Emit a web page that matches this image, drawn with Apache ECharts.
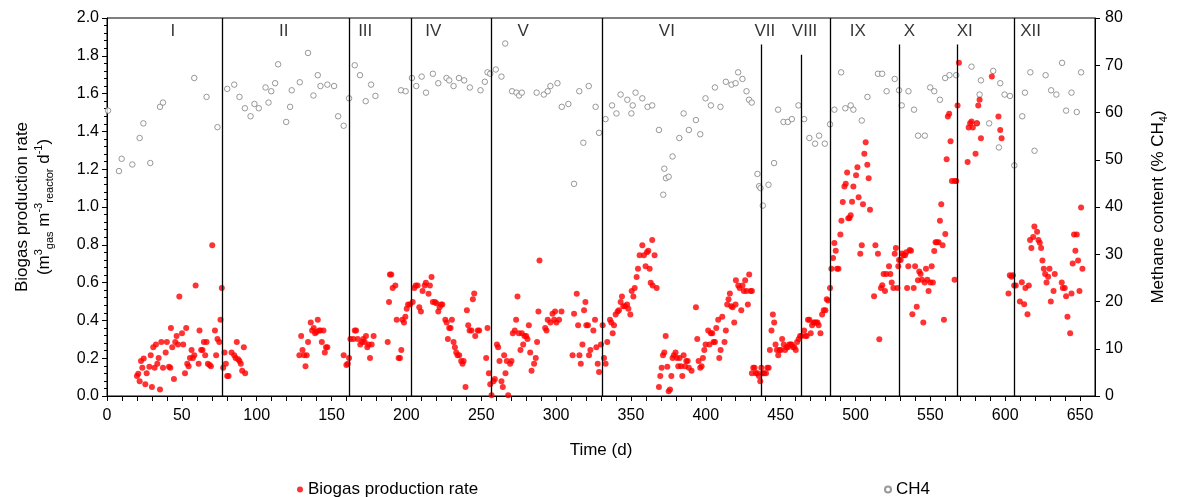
<!DOCTYPE html>
<html>
<head>
<meta charset="utf-8">
<script src="https://cdn.jsdelivr.net/npm/echarts@6/dist/echarts.min.js"></script>
<style>
html, body { margin: 0; padding: 0; background: #fff; }
#chart { width: 1177px; height: 497px; }
</style>
</head>
<body>
<div id="chart"></div>
<script>
// Biogas production rate (m3 gas per m3 reactor per day) against time (d)
const biogasDays = [
  20.0,20.9,21.8,22.7,23.6,24.5,25.6,26.5,28.3,29.2,30.0,30.9,31.8,32.7,33.6,34.5,35.4,36.3,37.4,39.2,
  40.0,41.4,42.3,42.7,43.6,44.7,45.6,46.5,47.4,48.3,50.1,50.9,52.1,52.9,53.6,54.5,55.4,56.5,57.4,58.3,
  59.2,61.2,61.8,62.9,63.8,64.7,65.6,66.5,67.4,68.5,69.4,70.3,72.1,72.9,73.8,75.0,75.8,76.7,77.6,78.5,
  79.4,80.3,81.2,83.2,85.0,85.9,86.7,87.6,88.5,89.4,90.3,91.4,92.3,
  128.5,129.7,130.6,131.7,132.6,133.4,134.3,136.1,137.0,138.1,139.0,139.9,140.8,141.7,142.6,143.5,144.6,145.5,146.3,147.2,
  158.1,159.9,160.8,161.7,162.6,164.6,165.5,166.4,167.5,169.2,170.4,171.2,172.1,173.0,173.9,174.8,175.7,176.8,178.1,
  187.5,188.4,189.0,189.9,190.8,192.6,193.5,194.8,195.7,196.6,197.3,198.4,199.3,200.2,201.1,202.4,
  204.2,205.3,206.2,207.5,208.6,209.7,210.8,212.2,213.0,214.8,215.7,216.8,217.7,219.1,220.0,221.3,222.2,223.1,224.0,
  226.0,226.9,227.7,228.6,229.5,230.4,231.5,232.4,233.3,234.2,235.3,236.6,237.5,238.2,239.5,240.4,241.3,242.2,243.5,
  244.4,245.3,246.0,247.7,248.6,253.3,254.2,255.1,256.0,256.9,
  258.2,259.1,260.5,261.3,262.2,263.5,264.4,265.3,266.2,267.1,268.0,269.3,270.2,271.1,272.4,273.3,274.2,275.1,276.2,
  277.1,278.0,278.9,280.0,280.9,281.8,282.7,283.6,285.3,286.4,287.3,288.2,288.9,292.7,293.6,294.4,296.2,297.6,298.7,
  299.3,300.2,302.0,303.6,311.0,312.0,313.8,314.7,315.6,316.5,317.6,318.7,319.6,320.2,321.3,322.0,322.9,324.9,326.0,
  326.9,327.8,328.7,330.0,
  331.1,332.0,333.1,334.2,336.0,336.9,337.8,338.7,339.8,341.1,342.0,343.1,344.0,344.9,346.0,347.4,348.3,349.6,350.5,
  351.6,352.5,353.8,354.7,355.8,357.6,358.7,359.8,360.7,361.6,362.5,363.2,364.2,364.5,365.8,367.2,
  368.7,369.6,370.5,371.4,372.3,373.2,374.3,375.2,376.1,377.0,377.8,378.7,379.8,380.7,381.6,382.5,383.4,384.3,385.2,
  386.1,387.0,387.9,388.7,390.5,393.4,394.3,395.2,396.3,397.2,398.1,399.0,399.9,401.6,402.5,403.4,404.3,405.2,406.1,
  407.0,408.3,409.0,409.9,411.0,412.5,413.4,414.3,415.2,416.1,417.0,417.9,419.0,419.9,420.1,421.7,422.6,423.7,424.5,
  425.4,426.3,427.2,428.1,429.0,429.9,430.8,
  430.8,431.7,432.6,433.5,434.4,435.5,436.4,437.1,438.0,438.9,440.2,441.1,442.0,442.8,443.9,444.8,445.7,446.6,447.5,
  448.4,449.2,450.1,451.0,452.1,453.0,453.9,454.8,455.7,456.6,457.4,458.3,459.2,460.1,461.0,462.1,463.0,463.9,
  465.7,466.6,467.4,468.3,469.2,470.1,471.0,471.9,472.8,473.7,474.6,475.4,476.6,477.7,478.8,479.9,480.8,481.7,
  483.0,483.9,485.0,485.9,486.8,487.7,488.6,489.9,490.6,491.5,492.6,493.5,494.4,495.2,
  496.0,496.8,497.7,498.6,500.4,501.3,502.1,503.2,504.2,505.0,505.9,506.8,507.9,508.8,509.7,512.4,513.3,515.0,515.9,
  517.0,517.9,518.8,519.7,520.6,522.4,523.3,524.2,525.3,526.2,527.0,528.0,528.6,
  529.1,530.2,531.1,532.0,533.1,534.0,534.5,535.3,536.2,537.1,538.0,538.9,539.8,540.9,541.7,542.6,543.5,544.4,545.3,
  546.2,547.1,548.0,548.8,550.0,550.9,551.7,552.6,553.5,554.4,555.5,556.4,557.3,558.2,559.1,560.0,560.9,561.7,562.6,
  563.5,564.4,566.2,566.2,567.3,568.2,569.1,
  574.9,575.6,576.6,577.5,578.4,580.2,581.1,582.0,582.9,583.8,591.1,595.5,596.7,597.6,
  602.2,603.1,604.2,605.1,606.0,607.1,609.8,611.1,612.7,613.5,614.9,615.8,616.6,617.5,618.7,619.5,621.3,622.2,623.1,
  624.0,624.9,625.8,626.7,627.6,628.7,629.6,630.5,632.3,633.1,637.8,638.5,639.8,640.7,641.6,643.4,644.3,645.1,646.0,
  646.9,647.8,648.7,649.6,650.7,651.6
];
const biogasRate = [
  0.106,0.118,0.078,0.185,0.150,0.198,0.062,0.120,0.155,0.216,0.048,0.258,0.150,0.272,0.171,0.201,0.034,0.286,0.150,0.230,
  0.286,0.155,0.150,0.360,0.258,0.090,0.286,0.318,0.272,0.526,0.332,0.272,0.120,0.360,0.171,0.157,0.201,0.244,0.201,0.216,
  0.585,0.171,0.346,0.244,0.244,0.286,0.216,0.286,0.171,0.164,0.157,0.797,0.346,0.216,0.302,0.286,0.403,0.571,0.150,0.230,
  0.171,0.106,0.106,0.230,0.216,0.201,0.286,0.194,0.185,0.171,0.134,0.258,0.120,
  0.216,0.318,0.244,0.216,0.157,0.216,0.286,0.389,0.346,0.360,0.332,0.339,0.403,0.346,0.346,0.286,0.346,0.230,0.258,0.258,
  0.216,0.164,0.171,0.201,0.302,0.302,0.346,0.346,0.302,0.272,0.286,0.302,0.286,0.318,0.258,0.272,0.201,0.272,0.318,
  0.286,0.498,0.643,0.643,0.571,0.585,0.403,0.201,0.201,0.244,0.403,0.389,0.419,0.461,0.484,0.484,
  0.498,0.571,0.585,0.585,0.470,0.447,0.556,0.585,0.599,0.541,0.585,0.629,0.498,0.498,0.491,0.447,0.470,0.484,0.484,
  0.403,0.389,0.302,0.360,0.360,0.403,0.286,0.258,0.230,0.216,0.216,0.185,0.171,0.185,0.048,0.454,0.374,0.346,0.346,
  0.512,0.542,0.318,0.346,0.346,0.201,0.360,0.120,0.062,0.004,
  0.078,0.090,0.272,0.258,0.185,0.078,0.048,0.216,0.120,0.185,0.004,0.171,0.185,0.332,0.346,0.403,0.526,0.332,0.244,
  0.332,0.272,0.318,0.318,0.302,0.374,0.230,0.134,0.171,0.201,0.286,0.447,0.717,0.360,0.346,0.403,0.389,0.435,0.403,
  0.447,0.389,0.403,0.447,0.216,0.435,0.541,0.374,0.216,0.171,0.272,0.454,0.498,0.374,0.374,0.216,0.244,0.346,0.403,
  0.258,0.171,0.127,0.272,
  0.374,0.201,0.171,0.286,0.403,0.389,0.332,0.374,0.431,0.447,0.454,0.498,0.526,0.475,0.475,0.484,0.461,0.431,0.556,
  0.526,0.571,0.629,0.673,0.745,0.797,0.745,0.687,0.760,0.768,0.673,0.599,0.825,0.585,0.745,0.571,
  0.048,0.106,0.150,0.216,0.230,0.318,0.155,0.025,0.034,0.106,0.201,0.216,0.230,0.201,0.157,0.201,0.157,0.106,0.216,
  0.157,0.185,0.185,0.150,0.134,0.470,0.302,0.185,0.150,0.157,0.201,0.244,0.272,0.346,0.272,0.332,0.332,0.286,0.286,
  0.360,0.403,0.201,0.244,0.419,0.286,0.346,0.484,0.512,0.542,0.475,0.470,0.389,0.484,0.613,0.585,0.571,0.454,0.585,
  0.556,0.613,0.556,0.484,0.643,0.556,0.556,
  0.120,0.150,0.150,0.120,0.120,0.106,0.078,0.150,0.120,0.120,0.120,0.150,0.150,0.244,0.346,0.431,0.389,0.272,0.244,
  0.216,0.244,0.244,0.302,0.272,0.244,0.258,0.258,0.272,0.272,0.272,0.258,0.258,0.244,0.286,0.302,0.318,0.318,
  0.346,0.318,0.318,0.403,0.403,0.332,0.374,0.389,0.389,0.389,0.389,0.374,0.332,0.431,0.454,0.454,0.512,0.505,
  0.571,0.673,0.730,0.809,0.768,0.673,0.673,0.855,0.927,1.026,1.108,1.123,1.182,0.941,
  0.942,0.956,1.028,1.108,1.168,1.210,1.051,0.753,0.797,1.014,1.282,1.343,1.224,1.152,0.986,0.528,0.797,0.753,0.300,
  0.572,0.586,0.645,0.556,0.645,0.687,0.645,0.601,0.571,0.753,0.783,0.571,0.687,
  0.719,0.719,0.754,0.745,0.745,0.760,0.572,0.687,0.772,0.768,0.433,0.572,0.687,0.472,0.613,0.659,0.645,0.615,0.389,
  0.601,0.673,0.615,0.556,0.601,0.687,0.601,0.767,0.813,0.813,0.813,0.927,1.014,0.797,0.403,0.857,1.252,1.479,1.494,
  1.348,1.138,1.138,0.615,1.138,1.537,1.763,
  1.238,1.420,1.443,1.452,1.420,1.282,1.443,1.537,1.567,1.364,1.691,1.479,1.408,1.364,
  0.542,0.639,0.631,0.639,0.585,0.585,0.500,0.602,0.486,0.571,0.433,0.585,0.825,0.783,0.841,0.897,0.869,0.825,0.811,
  0.783,0.717,0.673,0.645,0.601,0.631,0.673,0.500,0.556,0.645,0.601,0.571,0.571,0.528,0.419,0.332,0.542,0.701,0.855,
  0.768,0.855,0.717,0.556,0.998,0.673
];

// Methane content of the biogas (% CH4) against time (d)
const ch4Days = [
  0.7,8.0,9.8,16.9,21.8,24.3,28.9,35.4,37.4,58.3,66.5,73.8,80.3,85.0,88.5,92.1,95.9,98.5,101.4,105.9,
  107.9,109.7,112.3,114.3,119.7,122.3,123.4,128.8,134.3,137.9,140.8,142.6,147.2,151.7,154.4,158.1,161.7,165.5,169.0,172.8,
  176.4,179.3,196.4,199.5,203.7,206.6,210.2,213.1,217.7,221.3,226.8,228.6,231.5,235.1,238.6,242.4,249.5,252.4,254.2,256.0,
  259.7,263.5,266.0,270.6,273.5,275.3,277.1,287.0,291.8,294.4,296.2,300.9,303.8,308.2,312.0,315.5,318.2,321.8,326.4,328.7,
  333.0,337.4,340.3,343.1,347.6,350.3,351.2,353.1,357.6,361.1,364.2,368.7,371.6,372.3,373.4,375.2,377.8,382.3,385.2,388.7,
  393.4,396.3,399.8,403.4,406.1,409.8,413.4,417.2,419.9,421.6,424.5,427.2,428.9,430.7,434.5,435.6,436.5,438.1,441.9,445.6,
  448.3,451.9,454.8,457.5,461.9,465.7,469.2,473.0,475.7,479.5,483.0,485.9,490.4,493.2,496.8,498.6,504.2,508.0,515.0,517.8,
  520.8,526.2,529.1,530.9,535.4,539.1,541.8,546.3,549.9,552.6,556.4,559.9,562.8,567.3,577.5,581.1,582.9,583.8,589.3,592.0,
  595.8,596.7,599.6,603.2,606.1,611.4,613.2,616.8,619.6,627.0,630.7,634.2,638.0,640.7,644.3,647.8,650.7
];
const ch4Content = [
  60.4,47.6,50.2,49.0,54.6,57.7,49.3,61.2,62.1,67.3,63.3,56.9,65.0,65.9,63.3,60.9,59.2,61.8,60.9,65.3,
  62.1,64.5,66.2,70.2,58.0,61.2,64.7,66.4,72.6,63.6,67.9,65.6,65.9,65.6,59.2,57.2,63.0,70.0,67.9,62.4,
  65.9,63.5,64.7,64.5,67.3,65.6,67.6,64.2,68.2,66.2,67.3,66.8,65.6,67.3,66.8,65.3,64.7,66.5,68.5,68.2,
  69.1,67.6,74.6,64.5,64.2,63.6,64.2,64.2,63.8,64.5,65.6,66.2,61.2,61.8,44.9,64.5,53.6,65.6,61.2,55.7,
  58.6,61.5,59.8,63.8,62.7,59.8,61.5,64.2,63.0,61.2,61.5,56.3,42.6,48.1,46.1,46.4,50.7,54.6,59.8,56.3,
  58.4,55.4,63.0,61.5,65.3,61.2,66.5,65.9,66.2,68.5,67.1,64.5,62.7,62.1,47.0,44.4,44.0,40.3,44.7,49.3,
  60.6,58.0,58.0,58.6,61.5,58.6,54.6,53.4,55.1,53.4,57.5,60.6,68.5,60.9,61.5,60.6,58.3,63.3,68.2,68.2,
  64.5,67.1,64.7,61.5,64.5,60.6,55.1,55.1,65.3,64.5,62.7,67.3,67.9,67.9,69.7,57.7,63.8,66.8,57.7,68.8,
  52.6,66.2,63.8,63.5,48.8,59.2,64.2,68.5,51.9,67.9,64.7,63.8,70.5,60.4,64.2,60.1,68.5
];

// Operating periods: boundaries (d), top of each boundary line (left-axis units), label positions
const periodBounds = [77, 162, 203, 257, 331, 437, 464, 483, 529, 568, 606];
const periodBoundTops = [2.0, 2.0, 2.0, 2.0, 2.0, 1.86, 1.805, 2.0, 1.86, 1.86, 2.0];
const periodNames = ['I','II','III','IV','V','VI','VII','VIII','IX','X','XI','XII'];
const periodLabelDays = [44, 118, 172.5, 218, 278, 374, 439.5, 466, 501.5, 536, 573, 617];
const periodLabelLevel = 1.928;

const xTickInterval = 10;
const xLabelEvery = 50;

const FONT = '"Liberation Sans", Arial, sans-serif';

const chart = echarts.init(document.getElementById('chart'), null, { renderer: 'canvas' });

const biogasData = biogasDays.map((d, i) => [d, biogasRate[i]]);
const ch4Data = ch4Days.map((d, i) => [d, ch4Content[i]]);
const labelData = periodNames.map((n, i) => ({ name: n, value: [periodLabelDays[i], periodLabelLevel] }));
const boundLines = periodBounds.map((d, i) => [
  { coord: [d, periodBoundTops[i]] },
  { coord: [d, 0] }
]);

const axisText = { color: '#000', fontFamily: FONT, fontSize: 16 };

chart.setOption({
  animation: false,
  backgroundColor: '#fff',
  grid: { left: 107, right: 80, top: 18, bottom: 101, show: true, borderColor: '#000', borderWidth: 1, backgroundColor: 'transparent' },
  legend: [
    {
      data: ['Biogas production rate'], left: 292, top: 476, itemWidth: 6, itemHeight: 6, itemGap: 4,
      textStyle: { color: '#000', fontFamily: FONT, fontSize: 17 }
    },
    {
      data: ['CH4'], left: 879, top: 476, itemWidth: 6, itemHeight: 6, itemGap: 4,
      textStyle: { color: '#000', fontFamily: FONT, fontSize: 17 }
    }
  ],
  xAxis: {
    type: 'value', min: 0, max: 660, interval: xTickInterval,
    name: 'Time (d)', nameLocation: 'middle', nameGap: 46,
    nameTextStyle: { color: '#000', fontFamily: FONT, fontSize: 17 },
    axisLine: { onZero: false, lineStyle: { color: '#000', width: 1 } },
    axisTick: { show: true, inside: false, length: 5, lineStyle: { color: '#000' } },
    axisLabel: {
      ...axisText, margin: 12, showMaxLabel: false,
      formatter: v => (Math.round(v) % xLabelEvery === 0 ? String(Math.round(v)) : '')
    },
    splitLine: { show: false }
  },
  yAxis: [
    {
      type: 'value', min: 0, max: 2, interval: 0.2, position: 'left',
      name: '{t|Biogas production rate}\n{t|(m}{sup|3}{sub|gas}{t| m}{sup|-3}{sub|reactor}{t| d}{sup|-1}{t|)}',
      nameLocation: 'middle', nameRotate: 90, nameGap: 52,
      nameTextStyle: {
        color: '#000', fontFamily: FONT, fontSize: 17, lineHeight: 22,
        rich: {
          t: { fontSize: 17, fontFamily: FONT, color: '#000', lineHeight: 22 },
          sup: { fontSize: 11, fontFamily: FONT, color: '#000', verticalAlign: 'top', lineHeight: 22, padding: [0, 0, 8, 0] },
          sub: { fontSize: 11, fontFamily: FONT, color: '#000', verticalAlign: 'bottom', lineHeight: 22, padding: [6, 0, 0, 0] }
        }
      },
      axisLine: { show: true, lineStyle: { color: '#000', width: 1 } },
      axisTick: { show: true, inside: false, length: 5, lineStyle: { color: '#000' } },
      minorTick: { show: true, splitNumber: 5, length: 3, lineStyle: { color: '#000' } },
      axisLabel: { ...axisText, margin: 8, formatter: v => v.toFixed(1) },
      splitLine: { show: false }
    },
    {
      type: 'value', min: 0, max: 80, interval: 10, position: 'right',
      name: '{t|Methane content (% CH}{sub|4}{t|)}',
      nameLocation: 'middle', nameRotate: 90, nameGap: 52,
      nameTextStyle: {
        color: '#000', fontFamily: FONT, fontSize: 17,
        rich: {
          t: { fontSize: 17, fontFamily: FONT, color: '#000', lineHeight: 22 },
          sub: { fontSize: 11, fontFamily: FONT, color: '#000', verticalAlign: 'bottom', lineHeight: 22, padding: [6, 0, 0, 0] }
        }
      },
      axisLine: { show: true, lineStyle: { color: '#000', width: 1 } },
      axisTick: { show: true, inside: false, length: 5, lineStyle: { color: '#000' } },
      axisLabel: { ...axisText, margin: 10 },
      splitLine: { show: false }
    }
  ],
  series: [
    {
      name: 'Biogas production rate', type: 'scatter', yAxisIndex: 0,
      symbol: 'circle', symbolSize: 6,
      itemStyle: { color: '#ff0000' },
      data: biogasData, z: 3
    },
    {
      name: 'CH4', type: 'scatter', yAxisIndex: 1,
      symbol: 'circle', symbolSize: 5.5,
      itemStyle: { color: '#ffffff', borderColor: '#808080', borderWidth: 1 },
      data: ch4Data, z: 2
    },
    {
      name: 'periods', type: 'scatter', yAxisIndex: 0,
      symbolSize: 0, silent: true,
      label: {
        show: true, position: 'inside', formatter: p => p.name,
        color: '#000', fontFamily: FONT, fontSize: 17
      },
      data: labelData,
      markLine: {
        silent: true, symbol: 'none',
        label: { show: false },
        lineStyle: { color: '#000', width: 1.3, type: 'solid' },
        data: boundLines
      },
      z: 4
    }
  ]
});
</script>
</body>
</html>
